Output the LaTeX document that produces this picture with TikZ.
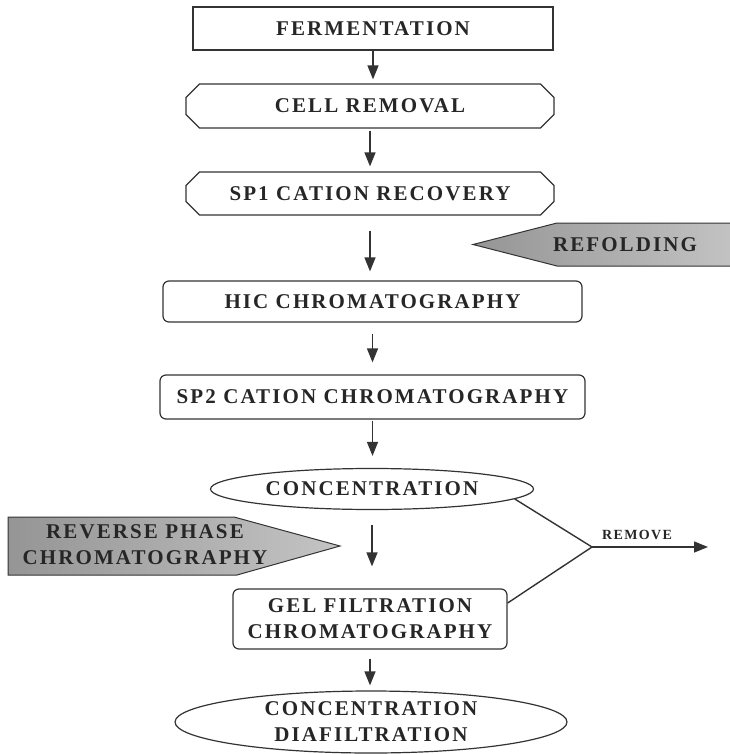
\documentclass[tikz,border=0pt]{standalone}
\usepackage{fontspec}
\setmainfont{Liberation Serif}
\newfontfamily\boxfont{Liberation Serif}[LetterSpace=10]
\usetikzlibrary{arrows.meta, shapes.geometric, shapes.misc, calc}
\definecolor{cline}{HTML}{333333}
\definecolor{ctext}{HTML}{262626}
\definecolor{cshdark}{HTML}{959595}
\definecolor{cshlight}{HTML}{C4C4C4}

\tikzset{
    steptext/.style={font=\fontsize{21}{26}\selectfont\boxfont\bfseries, text=ctext, align=center},
    stepbox/.style={steptext, draw=cline, line width=1.2pt},
    chambox/.style={stepbox, chamfered rectangle, chamfered rectangle xsep=12pt},
    roundbox/.style={stepbox, rounded corners=6pt},
    ovalbox/.style={stepbox, ellipse, inner sep=1pt},
    sidearrow/.style={draw=cline, line width=1pt, left color=cshdark, right color=cshlight},
    flowarrow/.style={draw=cline, line width=1.4pt, -{Triangle[length=14pt, width=11pt]}}
}

\begin{document}
\begin{tikzpicture}[x=1pt, y=-1pt]
    \useasboundingbox (0,0) rectangle (729,754);
    % main line of steps
    \node (ferm) [stepbox, minimum width=360pt, minimum height=43pt] at (373,28.5) {FERMENTATION};
    \node (cell) [chambox, minimum width=368pt, minimum height=44pt] at (370,106) {CELL REMOVAL};
    \node (sp1) [chambox, minimum width=368pt, minimum height=43pt] at (370,193.5) {SP1 CATION RECOVERY};
    \node (hic) [roundbox, minimum width=419pt, minimum height=41pt] at (372.5,301.5) {HIC CHROMATOGRAPHY};
    \node (sp2) [roundbox, minimum width=425pt, minimum height=44pt] at (372.5,397) {SP2 CATION CHROMATOGRAPHY};
    \node (conc) [ovalbox, minimum width=323pt, minimum height=41pt] at (372,489) {CONCENTRATION};
    \node (gel) [roundbox, minimum width=274pt, minimum height=60pt] at (370,619) {GEL FILTRATION\\CHROMATOGRAPHY};
    \node (diaf) [ovalbox, minimum width=392pt, minimum height=62pt] at (371,722) {CONCENTRATION\\DIAFILTRATION};
    \foreach \a/\b/\s/\e in {ferm/cell/0/4, cell/sp1/2/5, sp1/hic/15/9, hic/sp2/11/12, sp2/conc/1/12, conc/gel/15/22, gel/diaf/9/5}
        \draw[flowarrow, shorten <=\s pt, shorten >=\e pt] (\a.south) -- (\a.south |- \b.north);
    % side inputs
    \shadedraw[sidearrow] (473,244.5) -- (557,223) -- (740,223) -- (740,266) -- (557,266) -- cycle;
    \node (refold) [steptext] at (625,244.5) {REFOLDING};
    \shadedraw[sidearrow] (8,517) -- (234,517) -- (340,546) -- (237,575) -- (8,575) -- cycle;
    \node (rpc) [steptext] at (145,545) {REVERSE PHASE\\CHROMATOGRAPHY};
    % removal branch
    \coordinate (jn) at (592,547);
    \coordinate (rmend) at (708,547);
    \draw[draw=cline, line width=1.4pt] (conc.-4) -- (jn) -- ([yshift=16pt]gel.east);
    \draw[flowarrow] (jn) -- (rmend);
    \node (rmlbl) [steptext, font=\fontsize{14}{16}\selectfont\boxfont\bfseries] at (637,535) {REMOVE};
\end{tikzpicture}
\end{document}
